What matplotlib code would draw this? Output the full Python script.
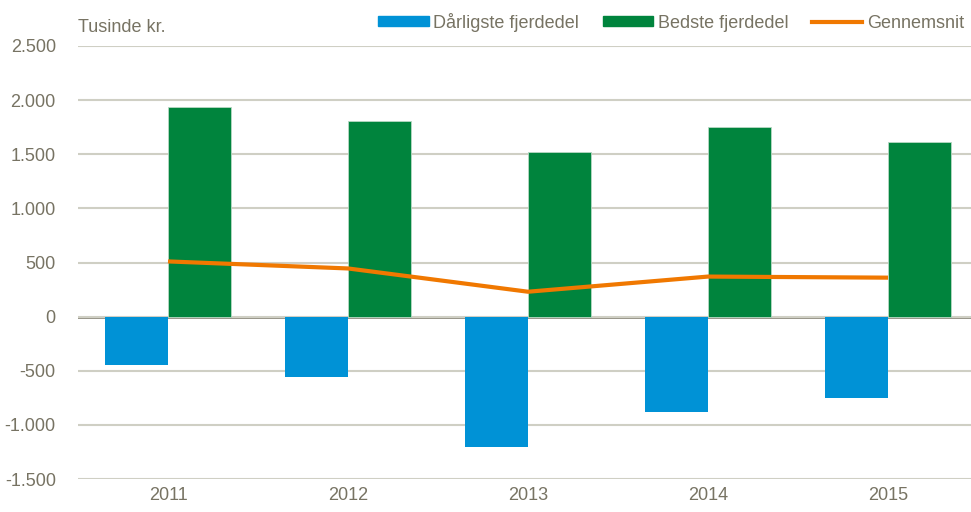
import numpy as np
import matplotlib
matplotlib.use("Agg")
import matplotlib.pyplot as plt
from matplotlib.lines import Line2D
from matplotlib.patches import Patch

years = ["2011", "2012", "2013", "2014", "2015"]
worst = [-445, -555, -1205, -885, -750]
best = [1935, 1805, 1520, 1750, 1615]
avg = [510, 445, 230, 370, 360]

blue = "#0092d6"
green = "#00843d"
orange = "#f07800"
txt = "#777363"
grid = "#cfcfc4"

plt.rcParams['font.family'] = ['Liberation Sans Narrow', 'Liberation Sans', 'DejaVu Sans']
fs = 13

fig = plt.figure(figsize=(9.71, 5.12), dpi=100)
ax = fig.add_axes([78/971, 33/512, 900/971, 433/512])

x = np.arange(len(years))
w = 0.35
ax.bar(x - w/2, worst, width=w, color=blue, zorder=2)
ax.bar(x + w/2, best, width=w, color=green, edgecolor="#b8d8c4", linewidth=0.6, zorder=2)
ax.plot(x, avg, color=orange, linewidth=3, zorder=3, solid_capstyle="butt")

ax.set_xlim(-0.5, 4.5)
ax.set_ylim(-1500, 2500)
ax.set_yticks(np.arange(-1500, 2501, 500))
ax.set_yticklabels([f"{v:,}".replace(",", ".") for v in range(-1500, 2501, 500)])
ax.set_xticks(x)
ax.set_xticklabels(years)
ax.grid(axis="y", color=grid, linewidth=1.5, zorder=0)
ax.axhline(0, color="#8c8a7c", linewidth=2, zorder=1)
for s in ax.spines.values():
    s.set_visible(False)
ax.tick_params(length=0, colors=txt, labelsize=fs)
ax.tick_params(axis="y", pad=16)
ax.tick_params(axis="x", pad=6)

fig.text(78/971, 1 - 27/512, "Tusinde kr.", color=txt, fontsize=fs, va="center", ha="left")

handles = [Patch(color=blue), Patch(color=green), Line2D([], [], color=orange, linewidth=3)]
labels = ["Dårligste fjerdedel", "Bedste fjerdedel", "Gennemsnit"]
leg = fig.legend(handles, labels, loc="center right", bbox_to_anchor=(964/971, 1 - 22/512),
                 ncol=3, frameon=False, fontsize=fs, handlelength=2.8, handleheight=0.5,
                 handletextpad=0.25, columnspacing=1.3, labelcolor=txt,
                 borderpad=0, borderaxespad=0)

fig.savefig("out.png", dpi=100)
